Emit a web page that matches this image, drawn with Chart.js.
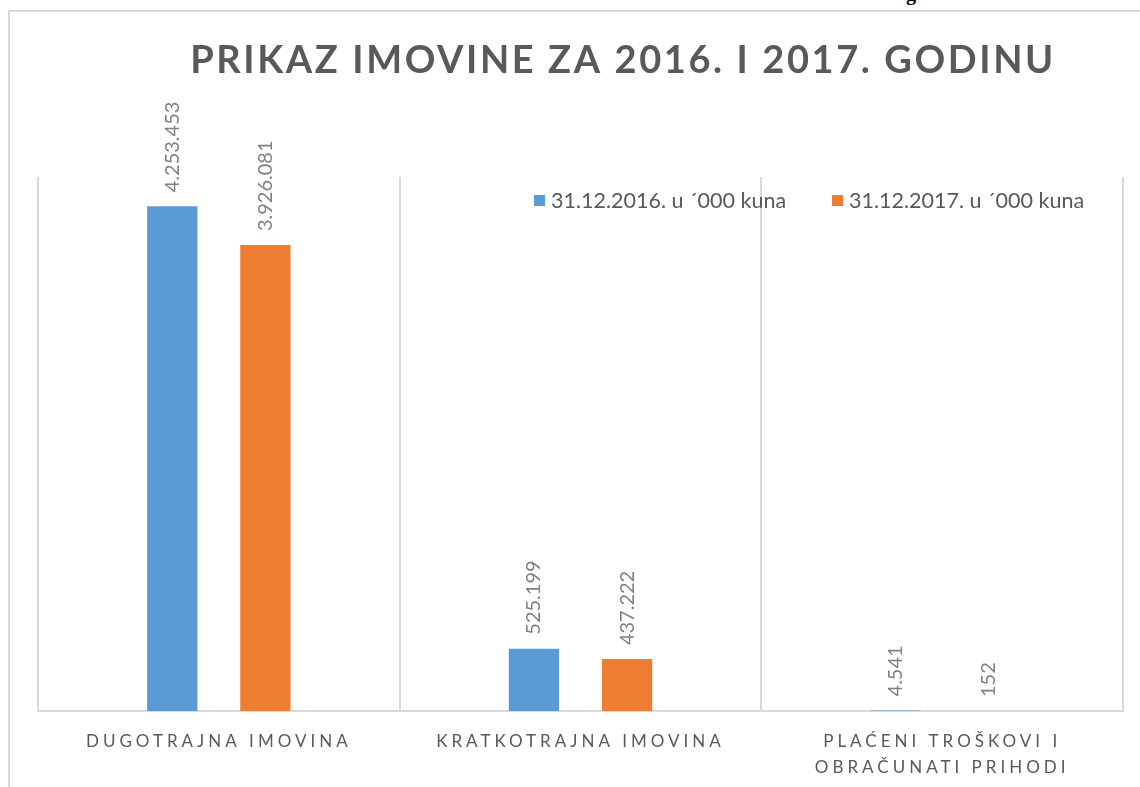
<!DOCTYPE html>
<html>
<head>
<meta charset="utf-8">
<script src="https://cdn.jsdelivr.net/npm/chart.js@4/dist/chart.umd.min.js"></script>
<style>
  html, body { margin: 0; padding: 0; background: #fff; overflow: hidden; }
  #frame {
    position: absolute; left: 8px; top: 10px; width: 1300px; height: 900px;
    border: 2px solid #d9d9d9; box-sizing: border-box;
  }
  #chart { position: absolute; left: 10px; top: 12px; }
  #cut { position: absolute; left: 906px; top: -18px; font: bold 20px "Liberation Serif"; color: #000; }
</style>
</head>
<body>
<div id="cut">g</div>
<div id="frame"></div>
<canvas id="chart" width="1224" height="775"></canvas>
<script>
const chartTitle = "PRIKAZ IMOVINE ZA 2016. I 2017. GODINU";
const categories = [
  "DUGOTRAJNA IMOVINA",
  "KRATKOTRAJNA IMOVINA",
  ["PLAĆENI TROŠKOVI I", "OBRAČUNATI PRIHODI"],
];
const seriesNames = ["31.12.2016. u ´000 kuna", "31.12.2017. u ´000 kuna"];
const values2016 = [4253453, 525199, 4541];
const values2017 = [3926081, 437222, 152];
const seriesColors = ["#5B9BD5", "#ED7D31"];
const yMax = 4500000;

const FONT = "Lato, 'Open Sans', sans-serif";
const TEXT_GRAY = "#595959";
const LABEL_GRAY = "#808080";

// Format numbers the Croatian way: 4.253.453
function fmt(v) {
  return String(v).replace(/\B(?=(\d{3})+(?!\d))/g, ".");
}

// Spaced tick labels, rotated value labels, title and in-plot legend.
const decorPlugin = {
  id: "decor",
  beforeDraw(chart) {
    chart.ctx.letterSpacing = "4px";
  },
  beforeDatasetsDraw(chart) {
    chart.ctx.letterSpacing = "0px";
  },
  afterDatasetsDraw(chart) {
    const ctx = chart.ctx;
    ctx.save();
    ctx.font = "20px " + FONT;
    ctx.fillStyle = LABEL_GRAY;
    ctx.textAlign = "left";
    ctx.textBaseline = "middle";
    chart.data.datasets.forEach((ds, i) => {
      const meta = chart.getDatasetMeta(i);
      meta.data.forEach((bar, j) => {
        ctx.save();
        ctx.translate(bar.x, bar.y - 14);
        ctx.rotate(-Math.PI / 2);
        ctx.fillText(fmt(ds.data[j]), 0, 0);
        ctx.restore();
      });
    });
    ctx.restore();
  },
  afterDraw(chart) {
    const ctx = chart.ctx;
    const area = chart.chartArea;
    ctx.save();
    // title
    ctx.font = "bold 38px " + FONT;
    ctx.letterSpacing = "2.6px";
    ctx.fillStyle = TEXT_GRAY;
    ctx.textAlign = "center";
    ctx.textBaseline = "middle";
    ctx.fillText(chartTitle, chart.width / 2 + 1, 49);
    // legend
    ctx.letterSpacing = "0px";
    ctx.font = "21.5px " + FONT;
    ctx.textAlign = "left";
    const legendX = [524, 822];
    const legendY = area.top + 24;
    seriesNames.forEach((name, i) => {
      ctx.fillStyle = seriesColors[i];
      ctx.fillRect(legendX[i], legendY - 6, 11, 11);
      ctx.fillStyle = TEXT_GRAY;
      ctx.fillText(name, legendX[i] + 17, legendY);
    });
    ctx.restore();
  },
};

new Chart(document.getElementById("chart"), {
  type: "bar",
  data: {
    labels: categories,
    datasets: [
      { label: seriesNames[0], data: values2016, backgroundColor: seriesColors[0] },
      { label: seriesNames[1], data: values2017, backgroundColor: seriesColors[1] },
    ],
  },
  options: {
    responsive: false,
    animation: false,
    events: [],
    categoryPercentage: 0.515,
    barPercentage: 0.54,
    layout: { padding: { left: 28, right: 111, top: 165, bottom: 0 } },
    plugins: {
      legend: { display: false },
      title: { display: false },
      tooltip: { enabled: false },
    },
    scales: {
      x: {
        grid: { offset: true, color: "#d9d9d9", lineWidth: 2, drawTicks: false },
        border: { color: "#d9d9d9", width: 2 },
        ticks: {
          color: TEXT_GRAY,
          font: { family: FONT, size: 17, lineHeight: 1.5 },
          padding: 18,
          maxRotation: 0,
          autoSkip: false,
        },
        afterFit(scale) {
          scale.height = 76;
        },
      },
      y: {
        display: false,
        min: 0,
        max: yMax,
      },
    },
  },
  plugins: [decorPlugin],
});
</script>
</body>
</html>
